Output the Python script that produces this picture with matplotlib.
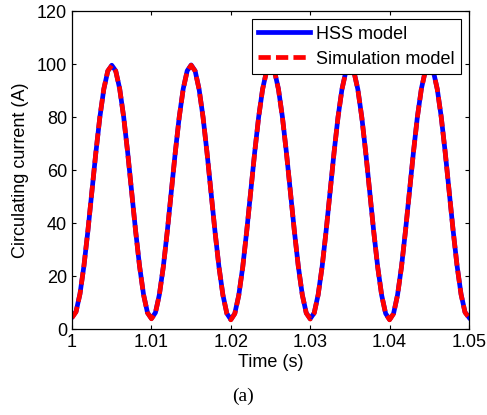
import numpy as np
import matplotlib.pyplot as plt

plt.rcParams['font.family'] = ['Liberation Sans', 'DejaVu Sans']

# Time samples (s), every 0.5 ms
t_start = 1.0
t_step = 0.0005
n_points = 101

# Circulating current (A)
hss_current = [
    4.5, 6.6, 13.4, 24.0, 37.3, 52.0, 66.7, 80.0, 90.6, 97.4,
    99.6, 97.5, 90.7, 80.1, 66.8, 52.0, 37.2, 23.8, 13.1, 6.2,
    4.0, 6.2, 13.1, 23.7, 37.1, 51.9, 66.7, 80.1, 90.7, 97.5,
    99.7, 97.5, 90.6, 80.0, 66.6, 51.8, 37.0, 23.6, 12.9, 5.9,
    3.6, 5.9, 12.8, 23.5, 37.0, 51.8, 66.6, 80.0, 90.6, 97.4,
    99.5, 97.4, 90.6, 80.0, 66.7, 51.9, 37.1, 23.7, 13.0, 6.1,
    3.9, 6.1, 13.0, 23.6, 37.0, 51.8, 66.6, 80.0, 90.6, 97.4,
    99.6, 97.3, 90.5, 79.9, 66.5, 51.7, 36.9, 23.5, 12.8, 5.9,
    3.6, 5.9, 12.9, 23.6, 37.1, 51.9, 66.7, 80.1, 90.7, 97.5,
    99.6, 97.5, 90.7, 80.2, 66.9, 52.1, 37.3, 23.9, 13.2, 6.4,
    4.4,
]
sim_current = [
    4.3, 6.5, 13.3, 24.0, 37.4, 52.1, 66.8, 80.1, 90.7, 97.5,
    99.5, 97.4, 90.6, 80.0, 66.7, 51.9, 37.1, 23.7, 13.0, 6.1,
    3.9, 6.1, 13.0, 23.6, 37.0, 51.8, 66.6, 80.0, 90.6, 97.4,
    99.6, 97.4, 90.5, 79.9, 66.5, 51.7, 36.9, 23.5, 12.8, 5.8,
    3.5, 5.8, 12.7, 23.4, 36.9, 51.7, 66.5, 79.9, 90.5, 97.3,
    99.4, 97.3, 90.5, 79.9, 66.6, 51.8, 37.0, 23.6, 12.9, 6.0,
    3.8, 6.0, 12.9, 23.5, 36.9, 51.7, 66.5, 79.9, 90.5, 97.3,
    99.5, 97.2, 90.4, 79.8, 66.4, 51.6, 36.8, 23.4, 12.7, 5.8,
    3.5, 5.8, 12.8, 23.5, 37.0, 51.8, 66.6, 80.0, 90.6, 97.4,
    99.5, 97.4, 90.6, 80.1, 66.8, 52.0, 37.2, 23.8, 13.1, 6.3,
    4.3,
]

x_ticks = [1, 1.01, 1.02, 1.03, 1.04, 1.05]
x_labels = ['1', '1.01', '1.02', '1.03', '1.04', '1.05']
y_ticks = [0, 20, 40, 60, 80, 100, 120]

t = t_start + t_step * np.arange(n_points)

fig = plt.figure(figsize=(4.87, 4.15), dpi=100)
ax = fig.add_axes([0.148, 0.207, 0.815, 0.766])

ax.plot(t, hss_current, color='#0000ff', lw=3.4, label='HSS model')
ax.plot(t, sim_current, color='#ff0000', lw=3.4, dashes=(2.6, 1.1),
        label='Simulation model')

ax.set_xlim(1, 1.05)
ax.set_ylim(0, 120)
ax.set_xticks(x_ticks)
ax.set_xticklabels(x_labels)
ax.set_yticks(y_ticks)
ax.tick_params(direction='in', top=True, right=True, length=3,
               labelsize=13, width=0.8)
for s in ax.spines.values():
    s.set_linewidth(0.9)

ax.set_xlabel('Time (s)', fontsize=13, labelpad=2)
ax.set_ylabel('Circulating current (A)', fontsize=13, labelpad=6)

leg = ax.legend(loc='upper right', fontsize=13, fancybox=False,
                edgecolor='black', framealpha=1, handlelength=2.9,
                borderaxespad=0.45, borderpad=0.35, labelspacing=0.45,
                handletextpad=0.3)
leg.get_frame().set_linewidth(0.8)

fig.text(0.499, 0.046, '(a)', ha='center', va='center', fontsize=14,
         family=['Liberation Serif', 'DejaVu Serif'])

fig.savefig('out.png', dpi=100)
